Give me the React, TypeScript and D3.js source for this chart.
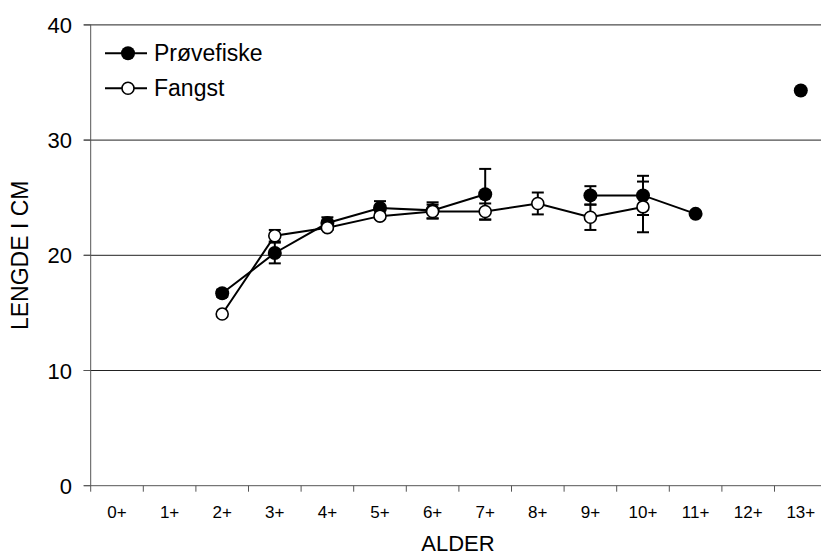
import React, { useRef, useEffect } from 'react';
import * as d3 from 'd3';

// age classes on the x axis
const categories = ['0+', '1+', '2+', '3+', '4+', '5+', '6+', '7+', '8+', '9+', '10+', '11+', '12+', '13+'];
const yTicks = [0, 10, 20, 30, 40];

// mean length (cm) and error
const provefiske = [null, null, 16.7, 20.2, 22.8, 24.1, 23.9, 25.3, null, 25.2, 25.2, 23.6, null, 34.3];
const provefiskeErr = [null, null, 0.3, 0.9, 0.5, 0.6, 0.7, 2.2, null, 0.8, 1.7, 0, null, 0];
const fangst = [null, null, 14.9, 21.7, 22.4, 23.4, 23.8, 23.8, 24.5, 23.3, 24.2, null, null, null];
const fangstErr = [null, null, 0, 0.5, 0.2, 0.2, 0.6, 0.7, 0.95, 1.1, 2.2, null, null, null];

const series = [
  { name: 'Prøvefiske', values: provefiske, err: provefiskeErr, filled: true },
  { name: 'Fangst', values: fangst, err: fangstErr, filled: false },
];

export default function App() {
  const svgRef = useRef(null);

  useEffect(() => {
    const width = 821;
    const left = 90.7;
    const step = 52.6;
    const font = '"Liberation Sans", Arial, sans-serif';

    const svg = d3.select(svgRef.current);
    svg.selectAll('*').remove();

    const x = d3.scaleBand().domain(categories).range([left, left + step * categories.length]).padding(0);
    const y = d3.scaleLinear().domain([0, 40]).range([485.7, 24.9]);
    const cx = (c) => x(c) + x.bandwidth() / 2;

    // horizontal grid lines
    svg.append('g')
      .selectAll('line')
      .data(yTicks.filter(d => d > 0))
      .join('line')
      .attr('x1', left - 7).attr('x2', width)
      .attr('y1', d => y(d)).attr('y2', d => y(d))
      .attr('stroke', '#222').attr('stroke-width', 1);

    // y axis
    const yAxis = svg.append('g');
    yAxis.append('line')
      .attr('x1', left).attr('x2', left).attr('y1', y(40)).attr('y2', y(0))
      .attr('stroke', '#555');
    yAxis.selectAll('line.tick')
      .data(yTicks)
      .join('line')
      .attr('class', 'tick')
      .attr('x1', left - 7).attr('x2', left)
      .attr('y1', d => y(d)).attr('y2', d => y(d))
      .attr('stroke', '#555');
    yAxis.selectAll('text')
      .data(yTicks)
      .join('text')
      .attr('x', 72).attr('y', d => y(d) + 8)
      .attr('text-anchor', 'end')
      .attr('font-family', font).attr('font-size', 22)
      .text(d => d);

    // x axis
    const xAxis = svg.append('g');
    xAxis.append('line')
      .attr('x1', left - 7).attr('x2', width).attr('y1', y(0)).attr('y2', y(0))
      .attr('stroke', '#555');
    xAxis.selectAll('line.tick')
      .data(d3.range(categories.length + 1))
      .join('line')
      .attr('class', 'tick')
      .attr('x1', i => left + i * step).attr('x2', i => left + i * step)
      .attr('y1', y(0)).attr('y2', y(0) + 6)
      .attr('stroke', '#555');
    xAxis.selectAll('text')
      .data(categories)
      .join('text')
      .attr('x', d => cx(d)).attr('y', 518)
      .attr('text-anchor', 'middle')
      .attr('font-family', font).attr('font-size', 17)
      .text(d => d);

    // axis titles
    svg.append('text')
      .attr('x', 458).attr('y', 551)
      .attr('text-anchor', 'middle')
      .attr('font-family', font).attr('font-size', 22)
      .text('ALDER');
    svg.append('text')
      .attr('transform', `translate(28,${(y(0) + y(40)) / 2}) rotate(-90)`)
      .attr('text-anchor', 'middle')
      .attr('font-family', font).attr('font-size', 23)
      .text('LENGDE I CM');

    const line = d3.line()
      .defined(d => d.v != null)
      .x(d => cx(d.c))
      .y(d => y(d.v));

    series.forEach(s => {
      const pts = categories.map((c, i) => ({ c, v: s.values[i], e: s.err[i] }));
      const g = svg.append('g');

      g.append('path')
        .attr('d', line(pts))
        .attr('fill', 'none')
        .attr('stroke', '#000')
        .attr('stroke-width', 2);

      const withErr = pts.filter(d => d.v != null && d.e);
      g.selectAll('line.err')
        .data(withErr)
        .join('line')
        .attr('class', 'err')
        .attr('x1', d => cx(d.c)).attr('x2', d => cx(d.c))
        .attr('y1', d => y(d.v - d.e)).attr('y2', d => y(d.v + d.e))
        .attr('stroke', '#000').attr('stroke-width', 2);
      [1, -1].forEach(sign => {
        g.selectAll(`line.cap${sign}`)
          .data(withErr)
          .join('line')
          .attr('class', `cap${sign}`)
          .attr('x1', d => cx(d.c) - 6).attr('x2', d => cx(d.c) + 6)
          .attr('y1', d => y(d.v + sign * d.e)).attr('y2', d => y(d.v + sign * d.e))
          .attr('stroke', '#000').attr('stroke-width', 2);
      });

      g.selectAll('circle')
        .data(pts.filter(d => d.v != null))
        .join('circle')
        .attr('cx', d => cx(d.c)).attr('cy', d => y(d.v))
        .attr('r', s.filled ? 7 : 6)
        .attr('fill', s.filled ? '#000' : '#fff')
        .attr('stroke', '#000')
        .attr('stroke-width', s.filled ? 0 : 1.6);
    });

    // legend
    const legend = svg.append('g');
    series.forEach((s, i) => {
      const ly = 53.3 + i * 35;
      legend.append('line')
        .attr('x1', 105).attr('x2', 147).attr('y1', ly).attr('y2', ly)
        .attr('stroke', '#000').attr('stroke-width', 2);
      legend.append('circle')
        .attr('cx', 128).attr('cy', ly)
        .attr('r', s.filled ? 7 : 6)
        .attr('fill', s.filled ? '#000' : '#fff')
        .attr('stroke', '#000')
        .attr('stroke-width', s.filled ? 0 : 1.6);
      legend.append('text')
        .attr('x', 154).attr('y', ly + 8)
        .attr('font-family', font).attr('font-size', 23)
        .text(s.name);
    });
  }, []);

  return (
    <div style={{ position: 'absolute', left: 0, top: 0 }}>
      <svg ref={svgRef} width={821} height={558} style={{ display: 'block' }}></svg>
    </div>
  );
}
